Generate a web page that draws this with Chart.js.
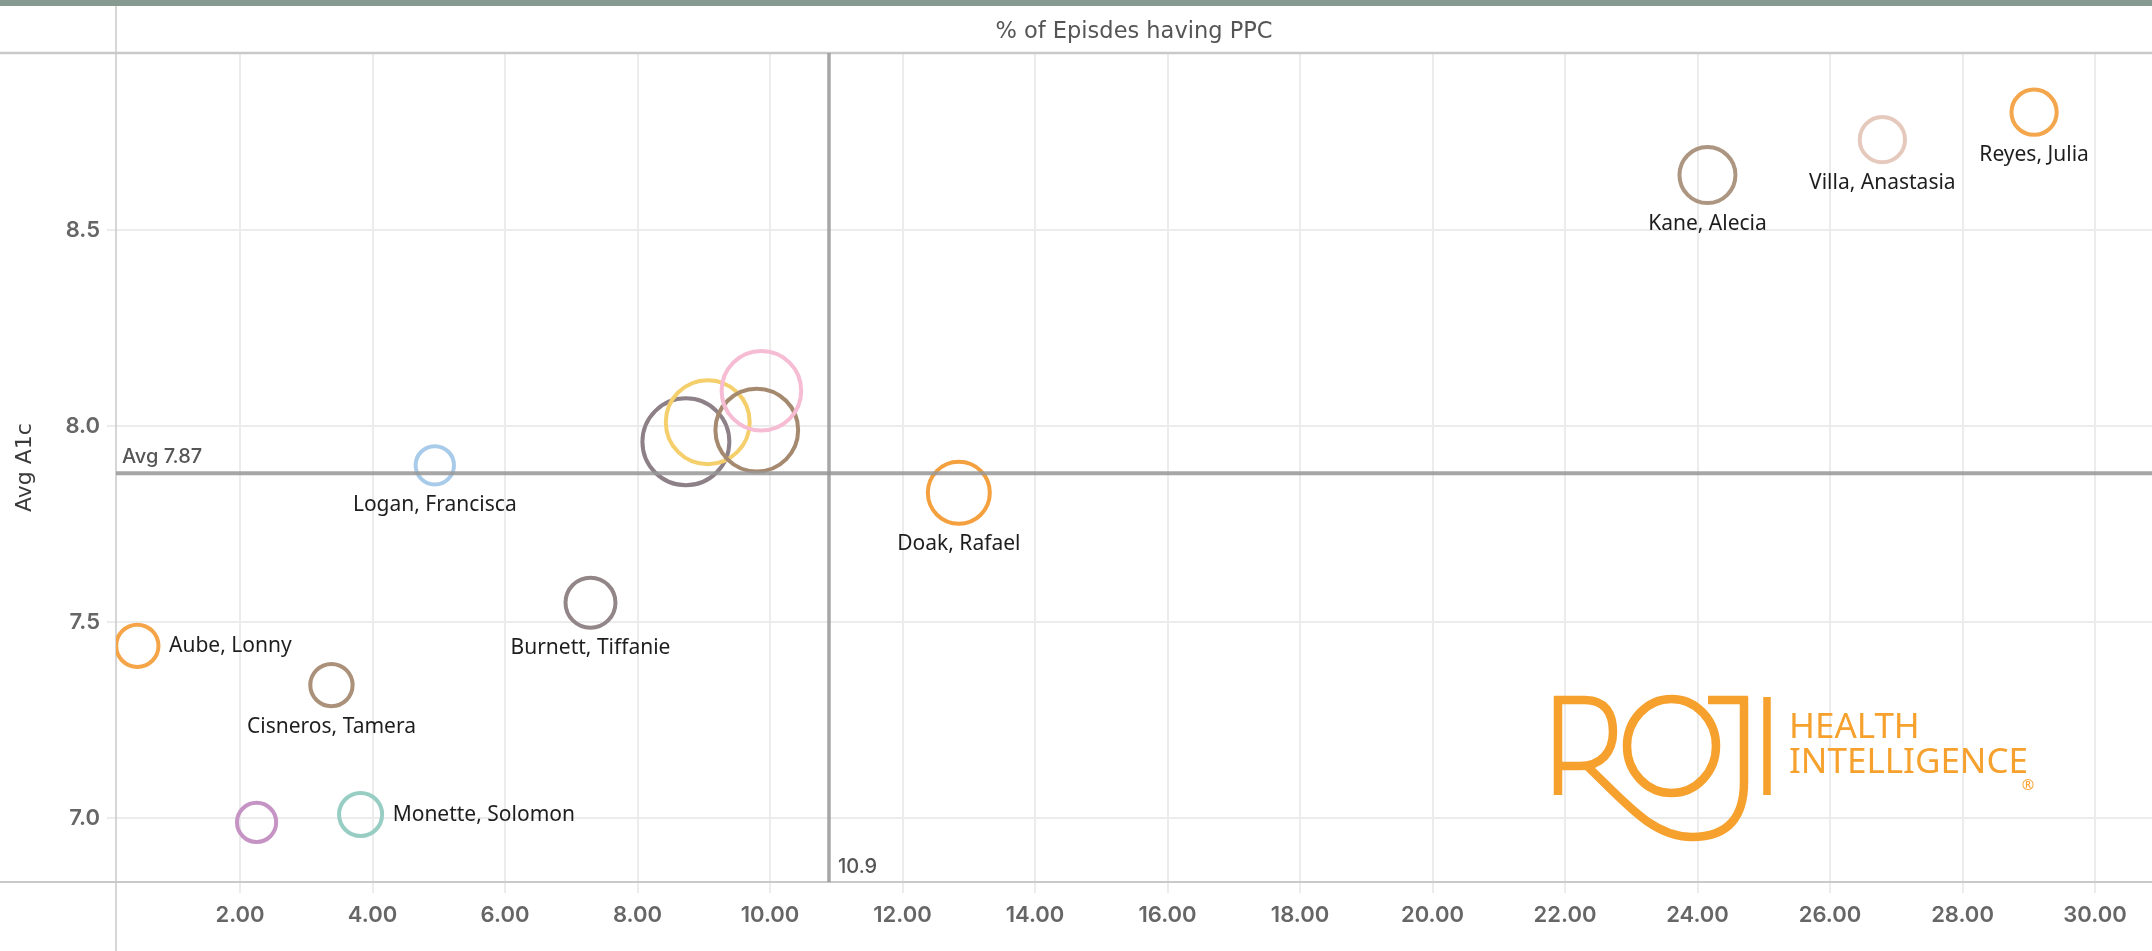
<!DOCTYPE html>
<html>
<head>
<meta charset="utf-8">
<script src="https://cdn.jsdelivr.net/npm/chart.js@4.4.1/dist/chart.umd.min.js"></script>
<style>
  html, body { margin: 0; padding: 0; background: #ffffff; }
  #wrap { width: 2152px; height: 951px; }
</style>
</head>
<body>
<div id="wrap"><canvas id="c" width="2152" height="951"></canvas></div>
<script>
// ---------------- DATA ----------------
const providerNames = ['Aube, Lonny', null, 'Cisneros, Tamera', 'Monette, Solomon', 'Logan, Francisca',
  'Burnett, Tiffanie', null, null, null, null, 'Doak, Rafael', 'Kane, Alecia', 'Villa, Anastasia', 'Reyes, Julia'];
const pctEpisodesPPC = [0.45, 2.25, 3.38, 3.82, 4.94, 7.29, 8.73, 9.06, 9.80, 9.87, 12.85, 24.15, 26.79, 29.08];
const avgA1c = [7.44, 6.99, 7.34, 7.01, 7.90, 7.55, 7.96, 8.01, 7.99, 8.09, 7.83, 8.64, 8.73, 8.80];
const episodeCount = [28, 24, 28, 29, 23, 39, 118, 110, 107, 99, 60, 49, 32, 32];
const xTickValues = [2, 4, 6, 8, 10, 12, 14, 16, 18, 20, 22, 24, 26, 28, 30];
const yTickValues = [7.0, 7.5, 8.0, 8.5];
const avgA1cReference = 7.88;
const avgA1cLabel = 'Avg 7.87';
const medianPPCReference = 10.89;
const medianPPCLabel = '10.9';
const xAxisTitle = '% of Episdes having PPC';
const yAxisTitle = 'Avg A1c';

// ---------------- STYLES ----------------
const markColors = ['#f5a547', '#c594c4', '#ab9179', '#98cdc4', '#a9cbea', '#938689', '#8d8087',
  '#f4cf6c', '#a58a70', '#f6bcd3', '#f4a03e', '#ac9681', '#e6c9bd', '#f4a64c'];
const labelPlacement = ['right', null, 'below', 'right', 'below', 'below', null, null, null, null,
  'below', 'below', 'below', 'below'];

const decor = {
  id: 'decor',
  beforeDraw(chart) {
    const { ctx, width, height } = chart;
    ctx.save();
    ctx.fillStyle = '#ffffff';
    ctx.fillRect(0, 0, width, height);
    ctx.fillStyle = '#879a92';
    ctx.fillRect(0, 0, width, 6);
    ctx.restore();
  },
  beforeDatasetsDraw(chart) {
    const { ctx, chartArea: a, width, height } = chart;
    ctx.save();
    ctx.strokeStyle = '#c9c9c9';
    ctx.lineWidth = 2.5;
    ctx.beginPath(); ctx.moveTo(0, a.top); ctx.lineTo(width, a.top); ctx.stroke();
    ctx.lineWidth = 2;
    ctx.beginPath(); ctx.moveTo(0, a.bottom); ctx.lineTo(width, a.bottom); ctx.stroke();
    ctx.lineWidth = 1.5;
    ctx.beginPath(); ctx.moveTo(a.left, 6); ctx.lineTo(a.left, height); ctx.stroke();
    ctx.restore();
  },
  afterDatasetsDraw(chart) {
    const { ctx, chartArea: a, scales } = chart;
    ctx.save();
    const yAvg = scales.y.getPixelForValue(avgA1cReference);
    const xMed = scales.x.getPixelForValue(medianPPCReference);
    ctx.strokeStyle = 'rgba(150,150,150,0.85)';
    ctx.lineWidth = 4;
    ctx.beginPath(); ctx.moveTo(a.left, yAvg); ctx.lineTo(a.right, yAvg); ctx.stroke();
    ctx.lineWidth = 3.5;
    ctx.beginPath(); ctx.moveTo(xMed, a.top); ctx.lineTo(xMed, a.bottom); ctx.stroke();
    ctx.fillStyle = '#555555';
    ctx.font = '500 20px Inter';
    ctx.textBaseline = 'middle';
    ctx.textAlign = 'left';
    ctx.fillText(avgA1cLabel, a.left + 6, yAvg - 16);
    ctx.fillText(medianPPCLabel, xMed + 9, a.bottom - 15);

    const meta = chart.getDatasetMeta(0);
    ctx.fillStyle = '#1e1e1e';
    ctx.font = '21px "Noto Sans"';
    meta.data.forEach((el, i) => {
      const name = providerNames[i];
      if (!name) return;
      const outer = el.options.radius + el.options.borderWidth / 2;
      if (labelPlacement[i] === 'right') {
        ctx.textAlign = 'left';
        ctx.fillText(name, el.x + outer + 8.5, el.y);
      } else {
        ctx.textAlign = 'center';
        ctx.fillText(name, el.x, el.y + outer + 18.5);
      }
    });
    ctx.restore();
  },
  afterDraw(chart) {
    const { ctx } = chart;
    const c = '#f6a12d';
    ctx.save();
    ctx.strokeStyle = c;
    ctx.fillStyle = c;
    ctx.lineWidth = 8.5;
    ctx.lineCap = 'butt';
    ctx.lineJoin = 'round';
    ctx.beginPath(); ctx.moveTo(1558, 696); ctx.lineTo(1558, 795); ctx.stroke();
    ctx.beginPath();
    ctx.moveTo(1554, 700);
    ctx.lineTo(1585, 700);
    ctx.bezierCurveTo(1606, 700, 1613, 714, 1613, 732);
    ctx.bezierCurveTo(1613, 752, 1601, 766, 1580, 766);
    ctx.lineTo(1558, 766);
    ctx.stroke();
    ctx.beginPath();
    ctx.moveTo(1588, 767);
    ctx.bezierCurveTo(1625, 802, 1652, 837, 1692, 837);
    ctx.bezierCurveTo(1730, 837, 1744, 815, 1744, 782);
    ctx.lineTo(1744, 697);
    ctx.stroke();
    ctx.beginPath(); ctx.moveTo(1708, 700); ctx.lineTo(1748, 700); ctx.stroke();
    ctx.beginPath(); ctx.ellipse(1671.5, 746, 44.5, 47, 0, 0, Math.PI * 2); ctx.stroke();
    ctx.lineWidth = 7.5;
    ctx.beginPath(); ctx.moveTo(1767, 697); ctx.lineTo(1767, 795); ctx.stroke();
    ctx.textAlign = 'left';
    ctx.textBaseline = 'alphabetic';
    ctx.font = '35px "Noto Sans"';
    ctx.fillText('HEALTH', 1789, 738);
    ctx.fillText('INTELLIGENCE', 1789, 773);
    ctx.font = '15px "Noto Sans"';
    ctx.textAlign = 'center';
    ctx.textBaseline = 'middle';
    ctx.fillText('\u00AE', 2028, 786);
    ctx.restore();
  }
};

const tickFont = { family: 'Inter', size: 22, weight: '600' };

new Chart(document.getElementById('c').getContext('2d'), {
  type: 'bubble',
  data: {
    datasets: [{
      data: pctEpisodesPPC.map((x, i) => ({ x: x, y: avgA1c[i], r: 4 * Math.sqrt(episodeCount[i]) })),
      borderColor: markColors,
      hoverBorderColor: markColors,
      backgroundColor: 'rgba(255,255,255,0)',
      hoverBackgroundColor: 'rgba(255,255,255,0)',
      borderWidth: 4,
      hoverBorderWidth: 4,
      hoverRadius: 0,
      clip: 0
    }]
  },
  options: {
    responsive: false,
    animation: false,
    devicePixelRatio: 1,
    events: [],
    layout: { autoPadding: false, padding: { top: 6, left: 0, right: 0, bottom: 0 } },
    plugins: { legend: { display: false }, tooltip: { enabled: false } },
    scales: {
      x: {
        type: 'linear', position: 'bottom', min: 0.128, max: 30.86,
        afterBuildTicks: s => { s.ticks = xTickValues.map(v => ({ value: v })); },
        afterFit: s => { s.height = 69; s.paddingLeft = 0; s.paddingRight = 0; },
        grid: { color: '#ececec', lineWidth: 2, drawTicks: true, tickLength: 11, tickColor: '#ececec', tickWidth: 2 },
        border: { display: false },
        ticks: { padding: 9, color: '#666666', font: tickFont, maxRotation: 0, autoSkip: false,
          callback: v => Number(v).toFixed(2) }
      },
      x2: {
        type: 'linear', position: 'top', min: 0, max: 1,
        afterFit: s => { s.height = 47; s.paddingLeft = 0; s.paddingRight = 0; },
        grid: { display: false, drawTicks: false },
        border: { display: false },
        ticks: { display: false },
        title: { display: true, text: xAxisTitle, color: '#555555',
          font: { family: 'DejaVu Sans', size: 22.5 }, padding: { top: 13, bottom: 0 } }
      },
      y: {
        type: 'linear', position: 'left', min: 6.838, max: 8.951,
        afterBuildTicks: s => { s.ticks = yTickValues.map(v => ({ value: v })); },
        afterFit: s => { s.width = 116; s.paddingTop = 0; s.paddingBottom = 0; },
        grid: { color: '#ececec', lineWidth: 2, drawTicks: true, tickLength: 9, tickColor: '#ececec', tickWidth: 2 },
        border: { display: false },
        ticks: { padding: 7, color: '#666666', font: tickFont, callback: v => Number(v).toFixed(1) },
        title: { display: true, text: yAxisTitle, color: '#3a3a3a',
          font: { family: 'DejaVu Sans', size: 22 }, padding: { top: 12, bottom: 0 } }
      }
    }
  },
  plugins: [decor]
});
</script>
</body>
</html>
